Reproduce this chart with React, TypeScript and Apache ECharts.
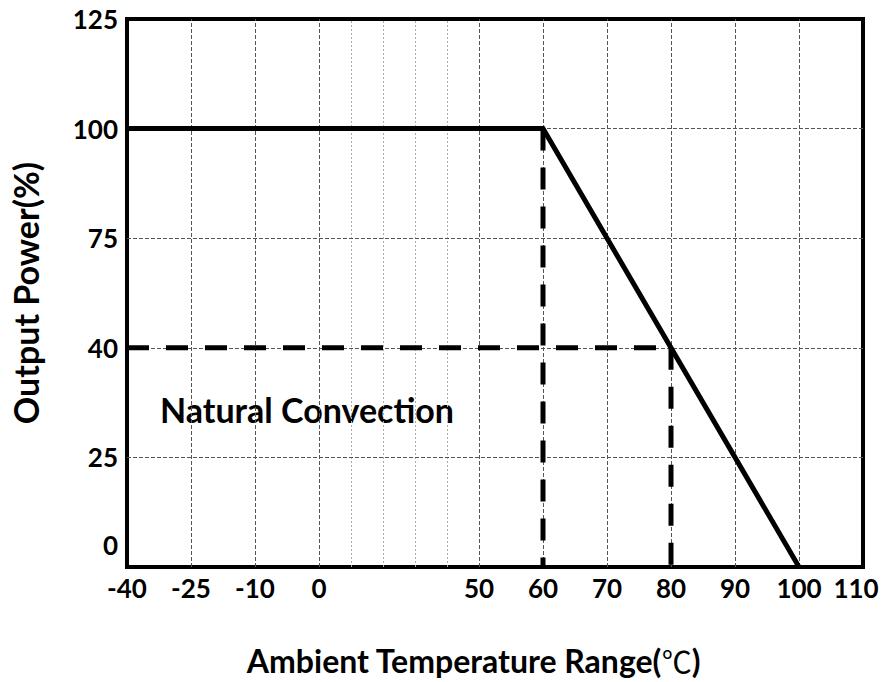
import React, { useEffect, useRef } from "react";
import * as echarts from "echarts";

// Axis tick values (the axes of the original are not linear: each labelled tick is one slot)
const xTickLabels = ["-40", "-25", "-10", "0", "50", "60", "70", "80", "90", "100", "110"];
const xTickValues = [-40, -25, -10, 0, 50, 60, 70, 80, 90, 100, 110];
const xTickSlots = [0, 1, 2, 3, 5.5, 6.5, 7.5, 8.5, 9.5, 10.5, 11.5];
const xMinorValues = [10, 20, 30, 40];
const yTickLabels = ["0", "25", "40", "75", "100", "125"];
const yTickValues = [0, 25, 40, 75, 100, 125];
const yTickSlots = [0, 1, 2, 3, 4, 5];

// Derating curve
const deratingTemp = [-40, 60, 100];
const deratingPower = [100, 100, 0];
// Reference (dashed) lines
const ref60Temp = [60, 60];
const ref60Power = [100, 0];
const ref40Temp = [-40, 80];
const ref40Power = [40, 40];
const ref80Temp = [80, 80];
const ref80Power = [40, 0];

const FONT = 'Lato, "Noto Sans CJK SC", sans-serif';

function toSlot(v: number, values: number[], slots: number[]): number {
  for (let i = 0; i < values.length - 1; i++) {
    if (v >= values[i] && v <= values[i + 1]) {
      const t = (v - values[i]) / (values[i + 1] - values[i]);
      return slots[i] + t * (slots[i + 1] - slots[i]);
    }
  }
  return v < values[0] ? slots[0] : slots[slots.length - 1];
}
const xs = (v: number) => toSlot(v, xTickValues, xTickSlots);
const ys = (v: number) => toSlot(v, yTickValues, yTickSlots);
const pts = (t: number[], p: number[]) => t.map((tv, i) => [xs(tv), ys(p[i])]);

function findIdx(slot: number, slots: number[]) {
  for (let i = 0; i < slots.length; i++) if (Math.abs(slots[i] - slot) < 1e-6) return i;
  return -1;
}

export default function App() {
  const ref = useRef<HTMLDivElement>(null);
  useEffect(() => {
    if (!ref.current) return;
    const chart = echarts.init(ref.current, null, { renderer: "svg" });
    const labelStyle = { fontFamily: FONT, fontWeight: "bold" as const, fontSize: 26, color: "#000" };
    const majorGrid = { color: "#555", width: 1, type: [4, 2] as number[] };
    const minorGrid = { color: "#aaa", width: 1, type: [2, 2] as number[] };
    const gridLines = [
      ...xTickValues.slice(1, -1).map((v) => ({ xAxis: xs(v), lineStyle: majorGrid })),
      ...xMinorValues.map((v) => ({ xAxis: xs(v), lineStyle: minorGrid })),
      ...yTickValues.slice(1, -1).map((v) => ({ yAxis: ys(v), lineStyle: majorGrid })),
    ];
    const dashStyle = { color: "#000", width: 5, type: [22, 17] as number[] };
    const titleStyle = { fontFamily: FONT, fontWeight: "bold" as const, fontSize: 32, color: "#000" };
    chart.setOption({
      animation: false,
      backgroundColor: "#fff",
      grid: {
        left: 119,
        right: 27,
        top: 19,
        bottom: 115,
        show: true,
        borderColor: "#000",
        borderWidth: 4,
        backgroundColor: "transparent",
      },
      xAxis: {
        type: "value",
        min: xTickSlots[0],
        max: xTickSlots[xTickSlots.length - 1],
        axisLine: { show: false },
        axisTick: { show: false },
        splitLine: { show: false },
        axisLabel: {
          customValues: xTickSlots,
          margin: 8,
          ...labelStyle,
          formatter: (v: number) => {
            const i = findIdx(v, xTickSlots);
            if (i < 0) return "";
            if (i === xTickSlots.length - 1) return "{last|" + xTickLabels[i] + "}";
            return xTickLabels[i];
          },
          rich: { last: { ...labelStyle, padding: [0, 14, 0, 0] } },
        },
        name: "{t|Ambient Temperature Range(}{deg|℃}{t|)}",
        nameLocation: "middle",
        nameGap: 77,
        nameTextStyle: {
          ...titleStyle,
          padding: [0, 43, 0, 0],
          rich: {
            t: { ...titleStyle },
            deg: { fontFamily: '"Noto Sans CJK SC", sans-serif', fontWeight: "normal", fontSize: 30, color: "#000" },
          },
        },
      },
      yAxis: {
        type: "value",
        min: yTickSlots[0],
        max: yTickSlots[yTickSlots.length - 1],
        axisLine: { show: false },
        axisTick: { show: false },
        splitLine: { show: false },
        axisLabel: {
          customValues: yTickSlots,
          margin: 9,
          ...labelStyle,
          formatter: (v: number) => {
            const i = findIdx(v, yTickSlots);
            if (i < 0) return "";
            if (i === 0) return "{lift|" + yTickLabels[i] + "}";
            return yTickLabels[i];
          },
          rich: { lift: { ...labelStyle, padding: [0, 0, 44, 0] } },
        },
        name: "Output Power(%)",
        nameLocation: "middle",
        nameGap: 85,
        nameTextStyle: { fontFamily: FONT, fontWeight: "bold", fontSize: 34, color: "#000" },
      },
      graphic: [
        {
          type: "text",
          left: 160,
          top: 392,
          style: { text: "Natural Convection", font: `bold 34px ${FONT}`, fill: "#000" },
        },
      ],
      series: [
        {
          type: "line",
          data: [],
          markLine: {
            silent: true,
            z: 1,
            symbol: ["none", "none"],
            label: { show: false },
            data: gridLines,
          },
        },
        { type: "line", data: pts(ref60Temp, ref60Power), symbol: "none", lineStyle: dashStyle, z: 3 },
        { type: "line", data: pts(ref40Temp, ref40Power), symbol: "none", lineStyle: dashStyle, z: 3 },
        { type: "line", data: pts(ref80Temp, ref80Power), symbol: "none", lineStyle: dashStyle, z: 3 },
        {
          type: "line",
          data: pts(deratingTemp, deratingPower),
          symbol: "none",
          lineStyle: { color: "#000", width: 5, join: "miter" },
          z: 4,
        },
      ],
    });
    return () => chart.dispose();
  }, []);
  return <div ref={ref} style={{ position: "absolute", left: 0, top: 0, width: 890, height: 682 }} />;
}
